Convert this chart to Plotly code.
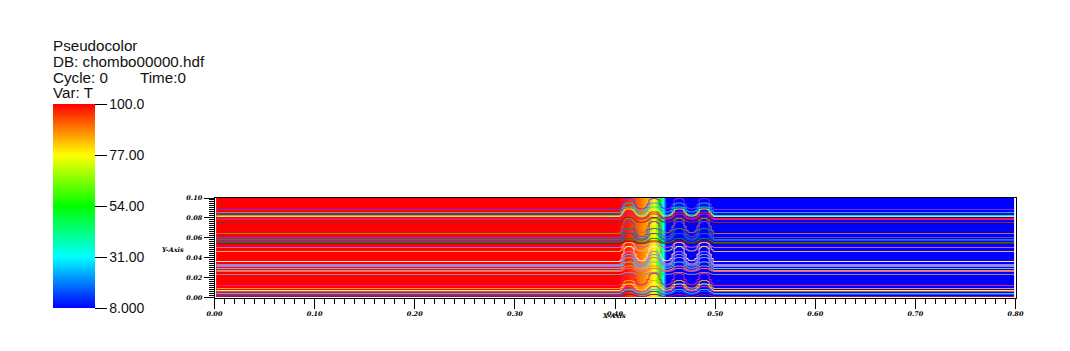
import plotly.graph_objects as go

PAGE = 8  # the page keeps an 8 px margin round the figure
W, H = 1070 - PAGE, 351 - PAGE
# Temperature field along x
field_x = [0.0018, 0.0022, 0.402, 0.410, 0.420, 0.430, 0.439, 0.445, 0.448, 0.451, 0.455, 0.7975, 0.7985]
field_t = [100, 100, 100, 98, 93, 86, 77, 54, 31, 8, 8, 8, 8]
field_y = [0.0, 0.1]

# Contour lines: level, colour, hump height
line_levels = [0.08844, 0.08543, 0.08241, 0.08141, 0.07940, 0.07839, 0.07538,
               0.06432, 0.06030, 0.05829, 0.05729, 0.05528, 0.05427,
               0.05025, 0.04623, 0.03618, 0.03317, 0.03216, 0.03116, 0.02915, 0.02714, 0.02613, 0.02312,
               0.01206, 0.00905, 0.00704, 0.00603, 0.00402, 0.00302, 0.00101]
line_colors = ["#7a2cf0", "#12b8e8", "#10e890", "#d8f040", "#f01848", "#e01890", "#a02808",
               "#a08818", "#8a30d8", "#108888", "#3050d0", "#108830", "#a80808",
               "#b860f0", "#f0b060", "#fff0a0", "#d860f0", "#70a0e0", "#9090d0", "#60d0d0", "#f09040", "#f060a0", "#909090",
               "#f01890", "#f8a810", "#ffff30", "#f030a0", "#20d0f0", "#3040f0", "#a01040"]
line_humps = [0.0110, 0.0095, 0.0085, 0.0075, 0.0065, 0.0055, 0.0050,
              0.0150, 0.0160, 0.0110, 0.0070, 0.0040, 0.0025,
              0.0050, 0.0090, 0.0150, 0.0130, 0.0110, 0.0090, 0.0065, 0.0045, 0.0030, 0.0020,
              0.0120, 0.0080, 0.0065, 0.0050, 0.0040, 0.0030, 0.0020]

# Shape shared by the contour lines through the four-humped zone
wave_x = [0.002, 0.403, 0.405, 0.407, 0.409, 0.411, 0.415, 0.417, 0.419, 0.421, 0.423, 0.4255,
          0.428, 0.430, 0.432, 0.434, 0.436, 0.440, 0.442, 0.444, 0.446, 0.448, 0.4505,
          0.453, 0.455, 0.457, 0.459, 0.461, 0.465, 0.467, 0.469, 0.471, 0.473, 0.4755,
          0.478, 0.480, 0.482, 0.484, 0.486, 0.490, 0.492, 0.494, 0.496, 0.498, 0.7985]
wave_s = [0, 0, 0.1, 0.5, 0.9, 1, 1, 0.9, 0.5, 0.2, 0.08, 0.05,
          0.08, 0.2, 0.5, 0.9, 1, 1, 0.9, 0.5, 0.2, 0.08, 0.05,
          0.08, 0.2, 0.5, 0.9, 1, 1, 0.9, 0.5, 0.2, 0.08, 0.05,
          0.08, 0.2, 0.5, 0.9, 1, 1, 0.9, 0.5, 0.2, 0, 0]

x_ticks = [0.0, 0.1, 0.2, 0.3, 0.4, 0.5, 0.6, 0.7, 0.8]
y_ticks = [0.0, 0.02, 0.04, 0.06, 0.08, 0.10]
bar_ticks = [8, 31, 54, 77, 100]
bar_labels = ["8.000", "31.00", "54.00", "77.00", "100.0"]
header = [("Pseudocolor", 53, 46), ("DB: chombo00000.hdf", 53, 62), ("Cycle: 0", 53, 77),
          ("Time:0", 140, 77), ("Var: T", 53, 92)]

rainbow = [[0, "#0000ff"], [0.25, "#00ffff"], [0.5, "#00ff00"], [0.75, "#ffff00"], [1, "#ff0000"]]
X0, X1, Y0, Y1 = 214.5 - PAGE, 1015.5 - PAGE, 198.0 - PAGE, 297.5 - PAGE
BAR_TOP, BAR_BOT = 104 - PAGE, 308 - PAGE
TICK_FONT = dict(family="DejaVu Serif", size=6.5, color="black", weight="bold", style="italic")
TXT = dict(family="Liberation Sans", size=15.2, color="#111111")
BAR_TXT = dict(family="Liberation Sans", size=14, color="#111111")

fig = go.Figure()
fig.add_trace(go.Heatmap(
    x=field_x, y=field_y, z=[field_t, field_t], zmin=8, zmax=100, zsmooth="best",
    colorscale=rainbow, hoverinfo="skip",
    colorbar=dict(thickness=42, thicknessmode="pixels", len=BAR_BOT - BAR_TOP, lenmode="pixels",
                  x=(53 - PAGE) / W, xanchor="left", xpad=0, ypad=0, y=1 - BAR_BOT / H, yanchor="bottom",
                  tickvals=bar_ticks, ticktext=bar_labels, ticks="outside", ticklen=12, tickwidth=1,
                  tickcolor="black", outlinewidth=0, borderwidth=0, tickfont=BAR_TXT),
))
for lev, col, hump in zip(line_levels, line_colors, line_humps):
    fig.add_trace(go.Scatter(x=wave_x, y=[lev + hump * s for s in wave_s], mode="lines",
                             line=dict(color=col, width=1, shape="hv"), showlegend=False, hoverinfo="skip", cliponaxis=True))

for txt, x, y in header:
    fig.add_annotation(text=txt, x=(x - PAGE) / W, y=1 - (y - PAGE) / H, xref="paper", yref="paper",
                       xanchor="left", yanchor="middle", showarrow=False, font=TXT, align="left", xshift=-2)
fig.add_annotation(text="Y-Axis", x=(173 - PAGE) / W, y=1 - (250 - PAGE) / H, xref="paper", yref="paper",
                   xanchor="center", yanchor="middle", showarrow=False, font=TICK_FONT)
fig.add_annotation(text="X-Axis", x=(614 - PAGE) / W, y=1 - (315.5 - PAGE) / H, xref="paper", yref="paper",
                   xanchor="center", yanchor="middle", showarrow=False, font=TICK_FONT)

axis = dict(showgrid=False, zeroline=False, showline=True, linecolor="black", linewidth=1, mirror=True,
            ticks="outside", tickcolor="black", tickfont=TICK_FONT, tickformat=".2f", ticklen=10, tickwidth=1)
fig.update_layout(
    width=W, height=H, autosize=False, margin=dict(l=0, r=0, t=0, b=0, pad=0, autoexpand=False),
    paper_bgcolor="white", plot_bgcolor="white", showlegend=False,
    xaxis=dict(axis, domain=[X0 / W, X1 / W], range=[0, 0.8], tickvals=x_ticks, tickangle=0,
               minor=dict(dtick=0.01, ticks="outside", ticklen=5, tickcolor="black", tickwidth=1)),
    yaxis=dict(axis, domain=[1 - Y1 / H, 1 - Y0 / H], range=[0, 0.1], tickvals=y_ticks,
               minor=dict(dtick=0.002, ticks="outside", ticklen=5, tickcolor="black", tickwidth=1)),
)
fig.write_html("out.html")
